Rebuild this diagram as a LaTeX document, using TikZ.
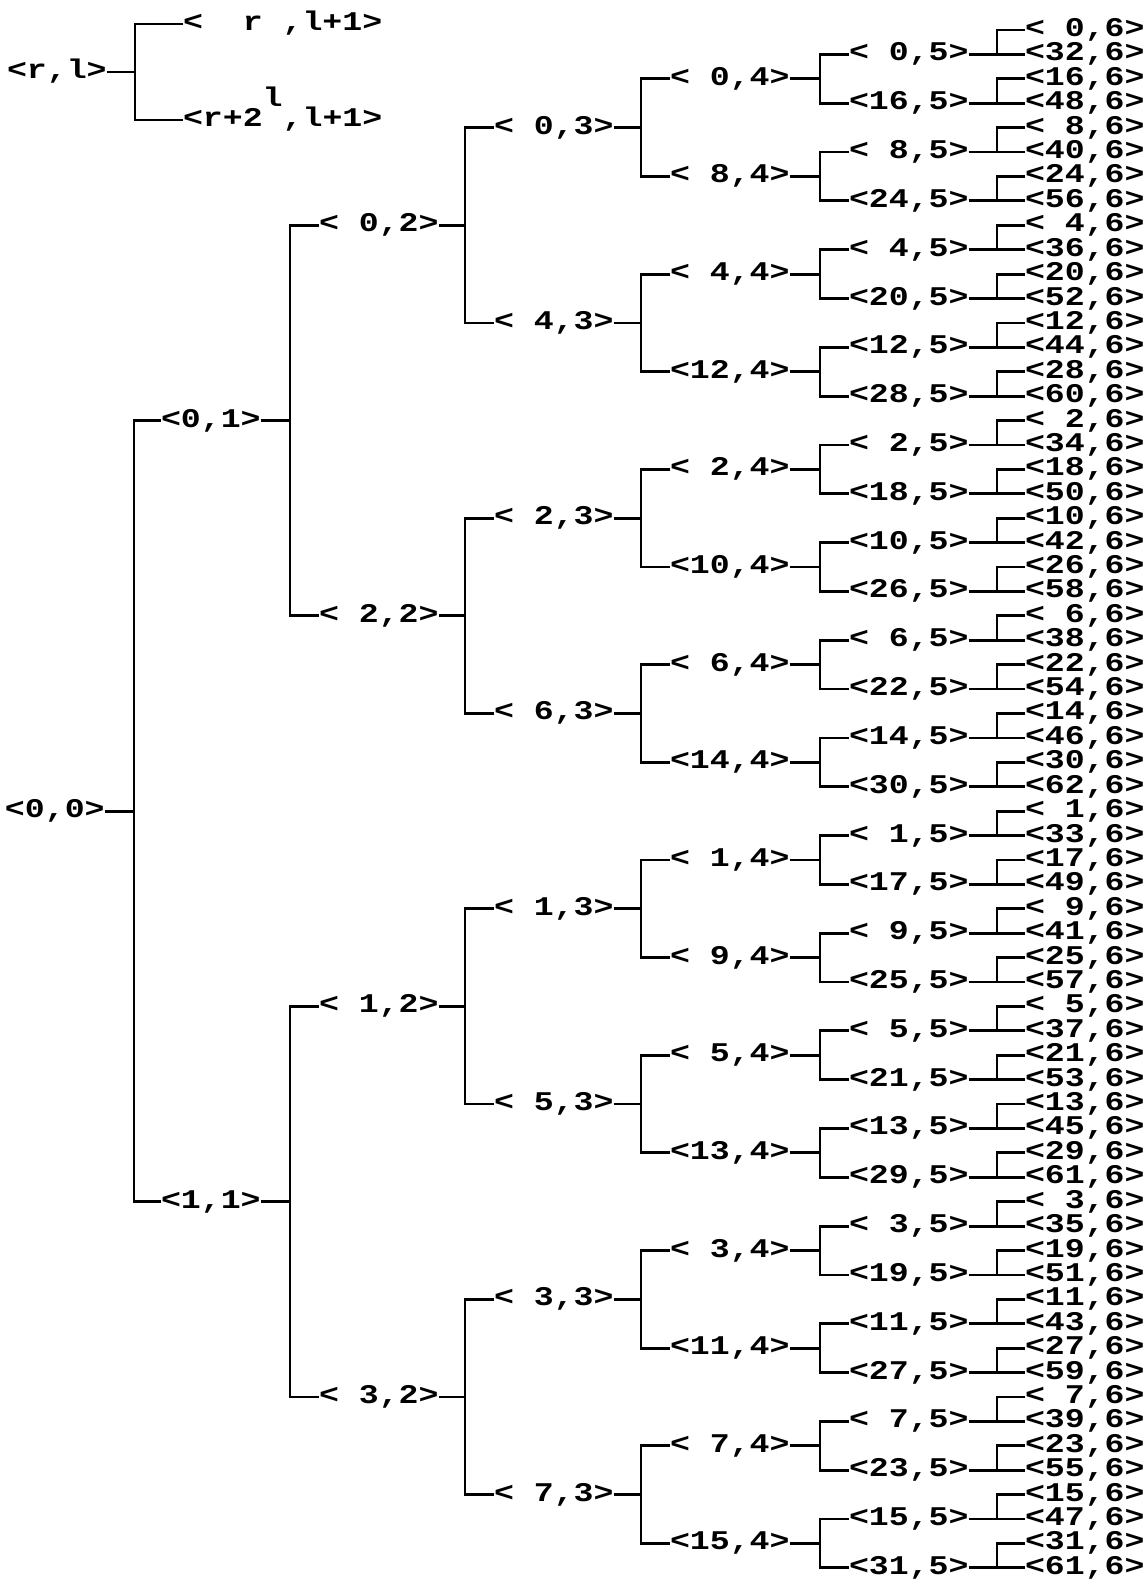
\documentclass[tikz,border=0pt]{standalone}
\usepackage{fontspec}
\newfontfamily\cour{Liberation Mono}[FakeStretch=1.23]
\tikzset{
  lab/.style={anchor=west, inner sep=0pt, outer sep=0pt,
    font={\cour\bfseries\fontsize{27}{30}\selectfont},
    text height=15pt, text depth=2pt},
  conn/.style={line width=2.8pt, line join=miter}
}
\begin{document}
\begin{tikzpicture}[x=1pt,y=-1pt]
\useasboundingbox (0,0) rectangle (1146,1580);
% legend
\node[lab] (g0) at (7,72) {<r,l>};
\node[lab] (g1) at (183,24) {<\ \ r\ ,l+1>};
\node[lab] (g2) at (183,120) {<r+2\raisebox{20pt}{l},l+1>};
\coordinate (gv) at (135,72);
\draw[conn] (g0.east) -- (gv);
\draw[conn] (g1.west) -| (gv) |- (g2.west);
% tree nodes
\foreach \l/\x/\vx/\vals in {
  0/5/134/{0},
  1/161/290/{0,1},
  2/319/465/{0,2,1,3},
  3/494/641/{0,4,2,6,1,5,3,7},
  4/670/820/{0,8,4,12,2,10,6,14,1,9,5,13,3,11,7,15},
  5/849/997/{0,16,8,24,4,20,12,28,2,18,10,26,6,22,14,30,1,17,9,25,5,21,13,29,3,19,11,27,7,23,15,31},
  6/1025/0/{0,32,16,48,8,40,24,56,4,36,20,52,12,44,28,60,2,34,18,50,10,42,26,58,6,38,22,54,14,46,30,62,1,33,17,49,9,41,25,57,5,37,21,53,13,45,29,61,3,35,19,51,11,43,27,59,7,39,23,55,15,47,31,61}} {
  \foreach \r [count=\k from 0] in \vals {
    \pgfmathsetmacro\off{\l<6 ? 2^(5-\l) : 0}
    \pgfmathsetmacro\yy{30+24.41*(2^(6-\l)*\k+\off)}
    \node[lab] (n\l-\k) at (\x,\yy) {\ifnum\l<2 <\r,\l>\else<\ifnum\r<10 \ \fi\r,\l>\fi};
    \ifnum\l<6 \coordinate (v\l-\k) at (\vx,\yy);\fi
  }
}
% connectors
\foreach \l/\n in {0/0,1/1,2/3,3/7,4/15,5/31} {
  \pgfmathtruncatemacro\m{\l+1}
  \foreach \k in {0,...,\n} {
    \pgfmathtruncatemacro\a{2*\k}
    \pgfmathtruncatemacro\b{2*\k+1}
    \draw[conn] (n\l-\k.east) -- (v\l-\k);
    \draw[conn] (n\m-\a.west) -| (v\l-\k) |- (n\m-\b.west);
  }
}
\end{tikzpicture}
\end{document}
